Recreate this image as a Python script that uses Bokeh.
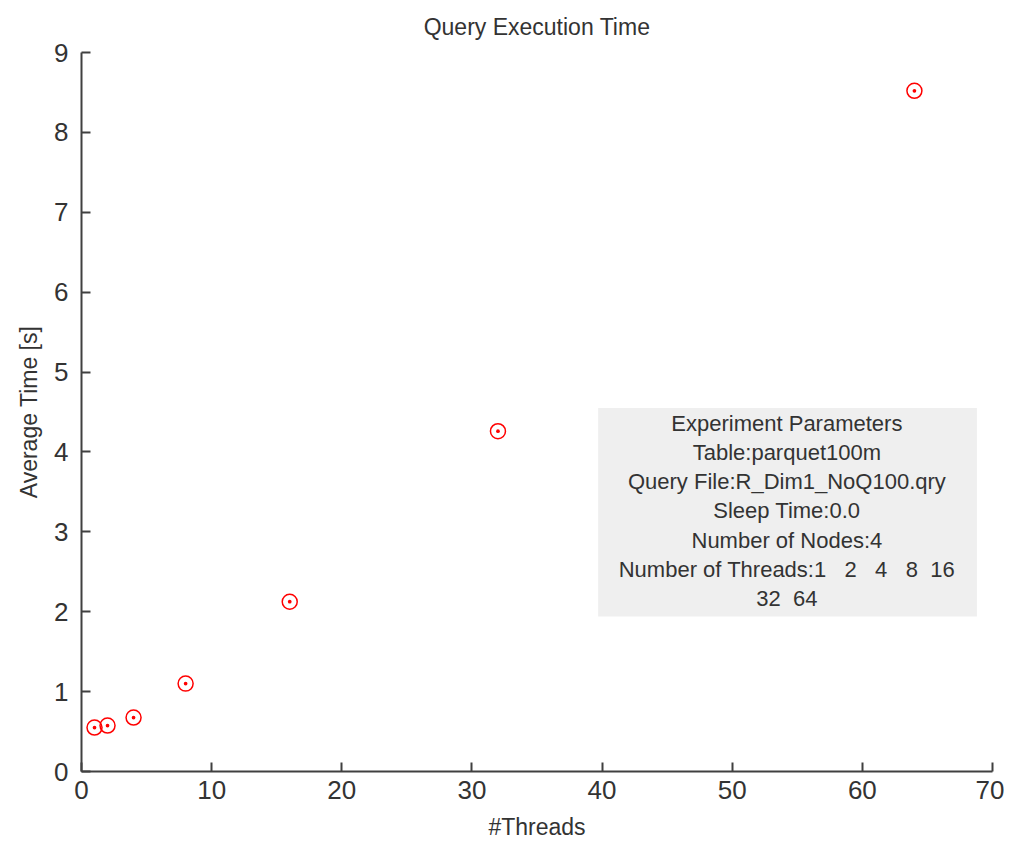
import re
from bokeh.plotting import figure
from bokeh.models import BoxAnnotation, Label, Range1d, FixedTicker
from bokeh.embed import file_html
from bokeh.resources import INLINE

threads = [1, 2, 4, 8, 16, 32, 64]
avg_time = [0.55, 0.575, 0.675, 1.10, 2.125, 4.26, 8.52]
x_ticks = [0, 10, 20, 30, 40, 50, 60, 70]
y_ticks = [0, 1, 2, 3, 4, 5, 6, 7, 8, 9]
info_lines = [
    "Experiment Parameters",
    "Table:parquet100m",
    "Query File:R_Dim1_NoQ100.qry",
    "Sleep Time:0.0",
    "Number of Nodes:4",
    "Number of Threads:1   2   4   8  16",
    "32  64",
]
title_text = "Query Execution Time"

FONT = "Liberation Sans"
TXT = "#333333"

p = figure(width=1004, height=842, output_backend="svg", toolbar_location=None,
           x_range=Range1d(0, 70), y_range=Range1d(0, 9),
           min_border_left=81, min_border_right=12, min_border_top=52, min_border_bottom=70)
p.title.text = title_text
p.title.align = "center"
p.title.vertical_align = "top"
p.title.text_font = FONT
p.title.text_font_size = "23px"
p.title.text_font_style = "normal"
p.title.text_color = TXT
p.title.standoff = 22

p.grid.visible = False
p.outline_line_color = None

for ax in (p.xaxis[0], p.yaxis[0]):
    ax.axis_line_color = "#404040"
    ax.axis_line_width = 2
    ax.major_tick_line_color = "#404040"
    ax.major_tick_line_width = 2
    ax.major_tick_in = 9
    ax.major_tick_out = 0
    ax.minor_tick_line_color = None
    ax.major_label_text_font = FONT
    ax.major_label_text_font_size = "26px"
    ax.major_label_text_color = TXT
    ax.axis_label_text_font = FONT
    ax.axis_label_text_font_size = "23px"
    ax.axis_label_text_font_style = "normal"
    ax.axis_label_text_color = TXT

p.xaxis.ticker = FixedTicker(ticks=x_ticks)
p.yaxis.ticker = FixedTicker(ticks=y_ticks)
p.xaxis.axis_label = "#Threads"
p.yaxis.axis_label = "Average Time [s]"
p.xaxis.major_label_standoff = 9
p.yaxis.major_label_standoff = 13
p.xaxis.axis_label_standoff = 12
p.yaxis.axis_label_standoff = 9

p.add_layout(BoxAnnotation(left=39.7, right=68.8, bottom=1.94, top=4.55,
                           fill_color="#efefef", fill_alpha=1, line_color=None))
top_y = 4.36
step = 0.366
for i, t in enumerate(info_lines):
    shown = re.sub(r" {2,}", lambda m: "\u00a0" * len(m.group()), t)
    p.add_layout(Label(x=54.2, y=top_y - i * step, text=shown, text_align="center",
                       text_baseline="middle", text_font=FONT, text_font_size="22px",
                       text_color=TXT))

p.scatter(threads, avg_time, marker="circle_dot", size=15, line_color="red",
          fill_color=None, line_width=1.5)

open("out.html", "w").write(file_html(p, INLINE))
